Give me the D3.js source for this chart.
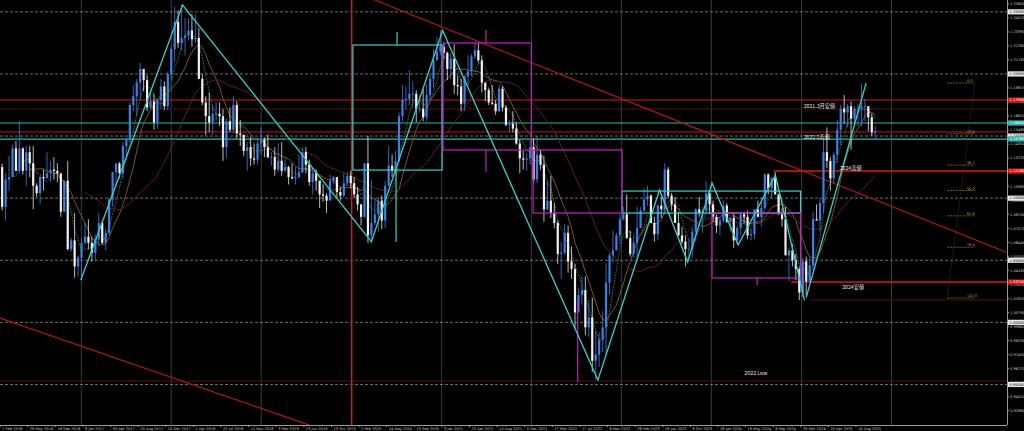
<!DOCTYPE html>
<html><head><meta charset="utf-8">
<script src="https://cdn.jsdelivr.net/npm/d3@7"></script>
<style>html,body{margin:0;padding:0;background:#000;overflow:hidden}</style>
</head><body>
<svg id="c" width="1024" height="431"></svg>
<script>
// ---- DATA (bi-weekly candles, first candle at startDate) ----
const startDate = "2016-02-01";
const firstOpen = 1.090;
const closes = [
1.125,1.093,1.115,1.117,1.140,1.122,1.140,1.122,1.137,1.128,1.110,1.104,1.117,1.116,1.120,1.123,1.122,1.120,1.089,1.114,1.059,1.066,1.045,1.052,
1.064,1.069,1.064,1.056,1.067,1.080,1.064,1.072,1.099,1.121,1.128,1.120,1.142,1.147,1.175,1.182,1.193,1.204,1.195,1.173,1.178,1.161,1.179,1.190,1.174,1.200,
1.220,1.242,1.225,1.229,1.231,1.235,1.228,1.229,1.196,1.177,1.166,1.161,1.168,1.168,1.166,1.141,1.162,1.155,1.175,1.152,1.151,1.138,1.141,1.132,1.131,1.144,
1.147,1.141,1.133,1.133,1.123,1.130,1.122,1.125,1.117,1.116,1.117,1.121,1.137,1.127,1.113,1.120,1.114,1.103,1.102,1.098,1.114,1.117,1.105,1.102,1.112,1.118,
1.112,1.103,1.095,1.085,1.128,1.070,1.080,1.087,1.098,1.082,1.110,1.126,1.122,1.130,1.166,1.179,1.180,1.184,1.184,1.172,1.172,1.165,1.183,1.196,1.211,1.218,
1.222,1.217,1.204,1.212,1.191,1.190,1.176,1.198,1.202,1.214,1.219,1.211,1.193,1.187,1.177,1.176,1.170,1.188,1.173,1.159,1.160,1.156,1.144,1.132,1.131,1.132,
1.141,1.115,1.135,1.127,1.091,1.098,1.088,1.080,1.055,1.056,1.072,1.049,1.043,1.008,1.022,1.026,0.996,1.004,0.969,0.974,0.986,0.996,1.032,1.054,1.058,1.070,
1.083,1.087,1.068,1.055,1.064,1.076,1.090,1.099,1.102,1.080,1.071,1.094,1.091,1.123,1.102,1.095,1.080,1.070,1.065,1.059,1.059,1.073,1.091,1.088,1.090,1.104,
1.095,1.085,1.078,1.082,1.094,1.081,1.084,1.066,1.076,1.087,1.085,1.070,1.071,1.091,1.085,1.092,1.119,1.108,1.116,1.103,1.087,1.083,1.054,1.058,1.050,1.043,
1.024,1.049,1.033,1.046,1.083,1.082,1.096,1.137,1.130,1.116,1.135,1.155,1.172,1.169,1.174,1.164,1.172,1.172,1.174,1.174,1.165,1.153,1.154];
const highs = [
1.138,1.128,1.120,1.134,1.143,1.146,1.162,1.141,1.142,1.142,1.142,1.112,1.118,1.123,1.137,1.130,1.133,1.128,1.120,1.114,1.130,1.068,1.088,1.054,
1.068,1.080,1.083,1.069,1.071,1.088,1.082,1.075,1.100,1.121,1.127,1.129,1.145,1.149,1.177,1.191,1.196,1.209,1.202,1.199,1.187,1.184,1.180,1.196,1.194,1.202,
1.222,1.254,1.251,1.256,1.245,1.245,1.248,1.248,1.237,1.200,1.182,1.185,1.175,1.177,1.177,1.172,1.164,1.173,1.182,1.178,1.163,1.151,1.145,1.149,1.144,1.148,
1.157,1.149,1.151,1.137,1.141,1.144,1.145,1.132,1.126,1.128,1.125,1.135,1.141,1.141,1.131,1.125,1.123,1.112,1.111,1.104,1.119,1.118,1.117,1.109,1.120,1.121,
1.122,1.117,1.109,1.095,1.128,1.150,1.115,1.099,1.101,1.102,1.114,1.142,1.135,1.138,1.169,1.191,1.190,1.203,1.194,1.187,1.183,1.188,1.192,1.200,1.220,1.230,
1.235,1.225,1.218,1.217,1.224,1.199,1.196,1.199,1.215,1.216,1.226,1.225,1.215,1.193,1.189,1.191,1.179,1.191,1.190,1.175,1.163,1.170,1.161,1.147,1.138,1.136,
1.148,1.148,1.150,1.139,1.134,1.114,1.118,1.096,1.082,1.065,1.079,1.078,1.061,1.047,1.028,1.037,1.037,1.018,1.020,0.993,0.992,1.009,1.048,1.056,1.074,1.072,
1.087,1.093,1.103,1.074,1.070,1.093,1.093,1.108,1.110,1.103,1.085,1.095,1.101,1.128,1.125,1.104,1.101,1.089,1.077,1.070,1.067,1.076,1.092,1.101,1.093,1.114,
1.105,1.098,1.087,1.085,1.098,1.096,1.085,1.087,1.078,1.089,1.089,1.090,1.076,1.091,1.098,1.101,1.120,1.120,1.117,1.121,1.103,1.092,1.093,1.060,1.063,1.055,
1.045,1.052,1.053,1.052,1.089,1.095,1.100,1.148,1.157,1.133,1.137,1.163,1.175,1.183,1.176,1.178,1.174,1.176,1.192,1.180,1.173,1.168,1.158];
const lows = [
1.087,1.090,1.082,1.106,1.117,1.122,1.120,1.119,1.110,1.117,1.091,1.101,1.095,1.106,1.116,1.113,1.115,1.113,1.085,1.089,1.058,1.057,1.036,1.037,
1.034,1.062,1.059,1.049,1.049,1.062,1.063,1.058,1.070,1.093,1.109,1.116,1.116,1.131,1.145,1.170,1.166,1.179,1.186,1.170,1.172,1.155,1.156,1.172,1.171,1.171,
1.195,1.210,1.221,1.219,1.215,1.227,1.222,1.225,1.196,1.175,1.151,1.153,1.151,1.162,1.158,1.130,1.132,1.153,1.152,1.148,1.142,1.134,1.122,1.126,1.127,1.127,
1.135,1.133,1.132,1.126,1.118,1.121,1.118,1.122,1.111,1.115,1.111,1.116,1.120,1.120,1.110,1.103,1.106,1.092,1.097,1.088,1.098,1.111,1.100,1.098,1.101,1.110,
1.108,1.100,1.090,1.078,1.084,1.064,1.064,1.078,1.073,1.075,1.076,1.110,1.117,1.120,1.129,1.162,1.171,1.175,1.173,1.161,1.169,1.162,1.162,1.178,1.189,1.211,
1.215,1.212,1.195,1.196,1.184,1.183,1.170,1.170,1.190,1.198,1.212,1.209,1.185,1.178,1.175,1.175,1.167,1.169,1.170,1.158,1.153,1.153,1.143,1.120,1.123,1.122,
1.127,1.112,1.112,1.123,1.081,1.090,1.084,1.076,1.047,1.035,1.055,1.040,1.035,0.995,1.008,1.014,0.990,0.988,0.960,0.954,0.964,0.976,0.974,1.022,1.048,1.058,
1.063,1.082,1.067,1.053,1.052,1.052,1.077,1.089,1.094,1.080,1.065,1.066,1.084,1.087,1.100,1.090,1.080,1.076,1.063,1.045,1.050,1.052,1.065,1.085,1.072,1.088,
1.087,1.081,1.072,1.070,1.080,1.080,1.073,1.060,1.063,1.070,1.079,1.067,1.066,1.067,1.085,1.077,1.091,1.103,1.100,1.103,1.088,1.077,1.054,1.033,1.045,1.034,
1.018,1.020,1.021,1.034,1.042,1.082,1.073,1.088,1.124,1.106,1.112,1.128,1.143,1.160,1.157,1.139,1.161,1.158,1.158,1.162,1.154,1.150,1.147];

const dateLabels = ["7 Feb 2016","29 May 2016","18 Sep 2016","8 Jan 2017","30 Apr 2017","20 Aug 2017","10 Dec 2017","1 Apr 2018","22 Jul 2018","11 Nov 2018","3 Mar 2019","23 Jun 2019","13 Oct 2019","2 Feb 2020","24 May 2020","13 Sep 2020","3 Jan 2021","25 Apr 2021","15 Aug 2021","5 Dec 2021","27 Mar 2022","17 Jul 2022","6 Nov 2022","26 Feb 2023","18 Jun 2023","8 Oct 2023","28 Jan 2024","19 May 2024","8 Sep 2024","29 Dec 2024","20 Apr 2025","10 Aug 2025"];
const priceTicks = [1.2565,1.2452,1.2339,1.2226,1.2113,1.2000,1.1887,1.1774,1.1661,1.1548,1.1435,1.1322,1.1209,1.1096,1.0983,1.0870,1.0757,1.0644,1.0531,1.0418,1.0305,1.0192,1.0079,0.9966,0.9853,0.9740,0.9627,0.9514,0.9401,0.9288];
const roundLevels = [1.25,1.20,1.15,1.10,1.05,1.00,0.95];
const yearLines = ["2017-01-01","2018-01-01","2019-01-01","2021-01-01","2022-01-01","2023-01-01","2024-01-01","2025-01-01","2026-01-01"];

// annotation objects (date/price space)
const hLines = [
 {p:1.1790, c:"#d81818", from:null, w:1.2},
 {p:1.1718, c:"#5c1010", from:null, w:1},
 {p:1.1605, c:"#2fb5a8", from:null, w:1.2},
 {p:1.1533, c:"#b81515", from:null, w:1},
 {p:1.1476, c:"#2fb5a8", from:null, w:1.2},
 {p:1.1218, c:"#e01414", from:"2024-09-10", w:1.4},
 {p:1.0325, c:"#e01414", from:"2024-11-20", w:1.4},
 {p:1.0180, c:"#5c1010", from:"2025-02-05", w:1},
 {p:0.9528, c:"#5c1010", from:null, w:1}
];
const zigzag = [["2016-12-30",1.034],["2018-02-16",1.2555],["2020-03-23",1.065],["2021-01-06",1.2349],["2022-09-28",0.9536],["2023-06-05",1.1066],["2023-09-27",1.0486],["2024-01-04",1.1122],["2024-04-19",1.0623],["2024-09-17",1.1186],["2025-01-13",1.0178]];
const upLeg2025 = [["2025-01-20",1.0200],["2025-09-20",1.1927]];
const redDiag1 = [["2020-04-05",1.2595],["2027-04-10",1.0566]];
const redDiag2 = [["2016-02-06",1.0035],["2019-07-15",0.9173]];
const redVertical = "2020-01-03";
const cyanRects = [["2020-01-08","2021-01-04",1.2233,1.1226],["2023-01-04","2024-12-28",1.1057,1.0880]];
const magentaRects = [["2021-01-08","2022-01-01",1.2249,1.1388],["2022-01-08","2023-01-04",1.1388,1.0880],["2024-01-04","2024-12-28",1.0880,1.0357]];
const cyanTicks = [["2020-07-05",1.2338,1.2233],["2020-07-01",1.1226,1.0647]];
const magentaTicks = [["2021-07-01",1.2354,1.2249],["2021-07-01",1.1388,1.1210],["2022-07-08",1.0180,0.9520],["2024-07-05",1.0357,1.0300]];
const fibLevels = ["0.0","23.6","38.2","50.0","61.8","76.4","100.0"];
const fibPct = [0,23.6,38.2,50,61.8,76.4,100];
const fibRange = ["2026-08-15","2026-12-05",1.1927,1.0196];
const notes = [
 {t:"2021.3月安値", d:"2025-01-10", p:1.1725},
 {t:"2022.2高値", d:"2025-01-10", p:1.1478},
 {t:"2024高値", d:"2025-06-05", p:1.1228},
 {t:"2024安値", d:"2025-06-15", p:1.0265},
 {t:"2022 Low", d:"2024-05-15", p:0.9575}
];

// ---- DRAW ----
const parse = d3.timeParse("%Y-%m-%d");
const W = 1024, H = 431, PR = 1007, PB = 425;
const x = d3.scaleTime().domain([parse("2017-01-08"), parse("2025-08-10")]).range([83, 856]);
const y = d3.scaleLinear().domain([1.2555, 0.9536]).range([5, 380]);
const t0 = parse(startDate);
const candles = closes.map((c, i) => {
  const o = i ? closes[i-1] : firstOpen;
  return {d: d3.timeDay.offset(t0, 14*i), o, c, h: Math.max(highs[i], o, c), l: Math.min(lows[i], o, c)};
});

const svg = d3.select("#c");
svg.append("rect").attr("width", W).attr("height", H).attr("fill", "#000");
svg.append("defs").append("clipPath").attr("id", "pa").append("rect").attr("x", 0).attr("y", 0).attr("width", PR).attr("height", PB);
const g = svg.append("g").attr("clip-path", "url(#pa)");

// grid
g.selectAll(".vg").data(yearLines).join("line")
  .attr("x1", d => x(parse(d))).attr("x2", d => x(parse(d))).attr("y1", 0).attr("y2", PB)
  .attr("stroke", "#3a3a3a").attr("stroke-width", 1);
g.selectAll(".hg").data(roundLevels).join("line")
  .attr("x1", 0).attr("x2", PR).attr("y1", d => y(d)).attr("y2", d => y(d))
  .attr("stroke", "#8a8a8a").attr("stroke-width", 0.8).attr("stroke-dasharray", "3,2");

// horizontal levels
hLines.forEach(h => {
  g.append("line").attr("x1", h.from ? x(parse(h.from)) : 0).attr("x2", PR)
   .attr("y1", y(h.p)).attr("y2", y(h.p)).attr("stroke", h.c).attr("stroke-width", h.w);
});

// red vertical and diagonals
g.append("line").attr("x1", x(parse(redVertical))).attr("x2", x(parse(redVertical))).attr("y1", 0).attr("y2", PB)
  .attr("stroke", "#c81e1e").attr("stroke-width", 1.4);
[redDiag1, redDiag2].forEach(l => {
  g.append("line").attr("x1", x(parse(l[0][0]))).attr("y1", y(l[0][1])).attr("x2", x(parse(l[1][0]))).attr("y2", y(l[1][1]))
   .attr("stroke", "#b01818").attr("stroke-width", 1.2);
});

// moving averages
function sma(n) { return closes.map((c, i) => i < n-1 ? null : d3.mean(closes.slice(i-n+1, i+1))); }
const maLine = d3.line().defined(d => d[1] != null).x(d => x(d[0])).y(d => y(d[1]));
[[5, "#2f6a4a", "2,1"], [10, "#7a5524", null], [26, "#5e2020", null]].forEach(([n, col, dash]) => {
  const v = sma(n);
  g.append("path").datum(candles.map((k, i) => [k.d, v[i]])).attr("d", maLine)
   .attr("fill", "none").attr("stroke", col).attr("stroke-width", 1).attr("stroke-dasharray", dash);
});

// candles
const cg = g.append("g");
cg.selectAll("line").data(candles).join("line")
  .attr("x1", d => x(d.d)).attr("x2", d => x(d.d)).attr("y1", d => y(d.h)).attr("y2", d => y(d.l))
  .attr("stroke", d => d.c >= d.o ? "#3f7fe0" : "#e8e8e8").attr("stroke-width", 0.8);
cg.selectAll("rect").data(candles).join("rect")
  .attr("x", d => x(d.d) - 1.1).attr("width", 2.2)
  .attr("y", d => y(Math.max(d.o, d.c))).attr("height", d => Math.max(0.8, Math.abs(y(d.o) - y(d.c))))
  .attr("fill", d => d.c >= d.o ? "#3f7fe0" : "#f0f0f0");

// rectangles
function rects(arr, col) {
  arr.forEach(r => {
    const x0 = x(parse(r[0])), x1 = x(parse(r[1]));
    g.append("rect").attr("x", x0).attr("y", y(r[2])).attr("width", x1 - x0).attr("height", y(r[3]) - y(r[2]))
     .attr("fill", "none").attr("stroke", col).attr("stroke-width", 1.2);
  });
}
rects(cyanRects, "#3ad0c8");
rects(magentaRects, "#c21fc2");
function ticks(arr, col) {
  arr.forEach(t => {
    g.append("line").attr("x1", x(parse(t[0]))).attr("x2", x(parse(t[0]))).attr("y1", y(t[1])).attr("y2", y(t[2]))
     .attr("stroke", col).attr("stroke-width", 1.2);
  });
}
ticks(cyanTicks, "#3ad0c8");
ticks(magentaTicks, "#c21fc2");

// zigzag lines
const zl = d3.line().x(d => x(parse(d[0]))).y(d => y(d[1]));
g.append("path").datum(zigzag).attr("d", zl).attr("fill", "none").attr("stroke", "#3ad0c8").attr("stroke-width", 1.3);
g.append("path").datum(upLeg2025).attr("d", zl).attr("fill", "none").attr("stroke", "#3ad0c8").attr("stroke-width", 1.3);

// fibonacci
const fx0 = x(parse(fibRange[0])), fx1 = x(parse(fibRange[1]));
fibPct.forEach((p, i) => {
  const pr = fibRange[2] - (fibRange[2] - fibRange[3]) * p / 100;
  g.append("line").attr("x1", fx0).attr("x2", fx1).attr("y1", y(pr)).attr("y2", y(pr))
   .attr("stroke", "#7d7a2e").attr("stroke-width", 0.8).attr("stroke-dasharray", "2,1");
  g.append("text").attr("x", fx1 - 8).attr("y", y(pr) - 1).text(fibLevels[i])
   .attr("fill", "#a8a040").attr("font-size", 3.6).attr("font-family", "DejaVu Sans");
});
g.append("line").attr("x1", fx0).attr("y1", y(fibRange[3])).attr("x2", fx1).attr("y2", y(fibRange[2]))
  .attr("stroke", "#6a2a20").attr("stroke-width", 0.8).attr("stroke-dasharray", "1,1");

// notes
notes.forEach(n => {
  g.append("text").attr("x", x(parse(n.d))).attr("y", y(n.p)).text(n.t)
   .attr("fill", "#e8e8e8").attr("font-size", 5.2).attr("font-family", "Noto Sans CJK JP, DejaVu Sans");
});

// axes
svg.append("line").attr("x1", PR + 0.5).attr("x2", PR + 0.5).attr("y1", 0).attr("y2", PB).attr("stroke", "#9a9a9a");
svg.append("line").attr("x1", 0).attr("x2", PR).attr("y1", PB + 0.5).attr("y2", PB + 0.5).attr("stroke", "#9a9a9a");

const ya = svg.append("g").attr("font-family", "DejaVu Sans").attr("font-size", 3.6);
priceTicks.forEach(p => {
  ya.append("line").attr("x1", PR).attr("x2", PR + 2).attr("y1", y(p)).attr("y2", y(p)).attr("stroke", "#9a9a9a");
  ya.append("text").attr("x", PR + 3).attr("y", y(p) + 1.3).text(p.toFixed(5)).attr("fill", "#c8c8c8");
});
function box(p, fill, tcol) {
  ya.append("rect").attr("x", PR + 1).attr("y", y(p) - 2.6).attr("width", 16).attr("height", 5.2).attr("fill", fill);
  ya.append("text").attr("x", PR + 2.5).attr("y", y(p) + 1.3).text(p.toFixed(5)).attr("fill", tcol);
}
roundLevels.forEach(p => box(p, "#e8e8e8", "#000"));
hLines.filter(h => h.w > 1.1).forEach(h => box(h.p, h.c, "#fff"));

const xa = svg.append("g").attr("font-family", "DejaVu Sans").attr("font-size", 3.6);
const fmt = d3.timeParse("%d %b %Y");
dateLabels.forEach(s => {
  const xx = x(fmt(s));
  xa.append("line").attr("x1", xx).attr("x2", xx).attr("y1", PB).attr("y2", PB + 2).attr("stroke", "#9a9a9a");
  xa.append("text").attr("x", xx + 2).attr("y", PB + 4.6).text(s).attr("fill", "#c8c8c8");
});
</script>
</body></html>
